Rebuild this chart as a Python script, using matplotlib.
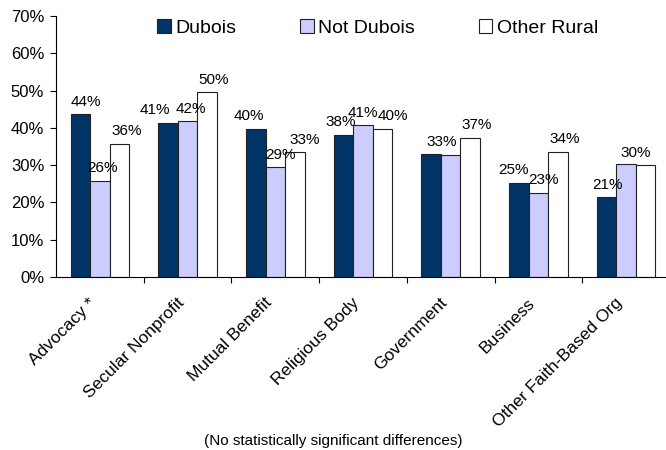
import matplotlib
matplotlib.use("Agg")
import matplotlib.pyplot as plt
import matplotlib.transforms as mtransforms
import numpy as np
from matplotlib.ticker import FixedLocator, PercentFormatter

plt.rcParams["font.family"] = ["Liberation Sans", "DejaVu Sans"]

categories = ["Advocacy *", "Secular Nonprofit", "Mutual Benefit", "Religious Body",
              "Government", "Business", "Other Faith-Based Org"]
series = ["Dubois", "Not Dubois", "Other Rural"]
dubois = [43.6, 41.4, 39.7, 38.2, 32.9, 25.3, 21.4]
not_dubois = [25.8, 41.8, 29.4, 40.7, 32.8, 22.6, 30.3]
other_rural = [35.8, 49.6, 33.4, 39.7, 37.3, 33.6, 30.0]
# which bars carry a value label (one label each on the Government / Other Faith pairs)
show_label = [
    [True, True, True, True, True, True, True],
    [True, True, True, True, False, True, False],
    [True, True, True, True, True, True, True],
]

colors = ["#003366", "#CCCCFF", "#FFFFFF"]
# horizontal nudge of each value label, in pixels, so neighbours don't collide
nudge = [
    [6, -13, -7, -3, 11, -5, 1],
    [3, 3, 5, 0, 0, 5, 0],
    [7, 6, 10, 10, 6, 7, -10],
]

fig = plt.figure(figsize=(6.66, 4.5), dpi=100)
ax = fig.add_axes([56 / 666, 1 - 277 / 450, 614 / 666, (277 - 16) / 450])

x = np.arange(len(categories))
w = 0.223
for i, (vals, name) in enumerate(zip([dubois, not_dubois, other_rural], series)):
    pos = x + (i - 1) * w
    ax.bar(pos, vals, w, color=colors[i], edgecolor="#222222", linewidth=0.8, label=name)
    for p, v, s, dx in zip(pos, vals, show_label[i], nudge[i]):
        if s:
            ax.annotate(f"{v:.0f}%", (p, v), xytext=(dx * 0.72, 4), textcoords="offset points",
                        ha="center", va="bottom", fontsize=11)

ax.set_xlim(-0.5, len(categories) - 0.5)
ax.set_ylim(0, 70)
ax.set_yticks(np.arange(0, 71, 10))
ax.yaxis.set_major_formatter(PercentFormatter(decimals=0))
ax.tick_params(axis="y", direction="out", length=4, labelsize=12, width=0.8, pad=4.5)

ax.set_xticks(x)
ax.set_xticklabels(categories, rotation=45, ha="right", va="center", rotation_mode="anchor",
                   fontsize=12.5)
ax.tick_params(axis="x", which="major", length=0, pad=17)
shift = mtransforms.ScaledTranslation(-6 / 100, 0, fig.dpi_scale_trans)
for lab in ax.get_xticklabels():
    lab.set_transform(lab.get_transform() + shift)
ax.xaxis.set_minor_locator(FixedLocator(np.arange(0.5, len(categories), 1)))
ax.tick_params(axis="x", which="minor", direction="out", length=4.5, width=0.8)

for side in ["top", "right"]:
    ax.spines[side].set_visible(False)
for side in ["left", "bottom"]:
    ax.spines[side].set_linewidth(0.8)

fig.legend(*ax.get_legend_handles_labels(), loc="upper left",
           bbox_to_anchor=(157 / 666, 1 - 19 / 450), ncol=3, frameon=False,
           borderpad=0, borderaxespad=0, fontsize=14, handlelength=0.7, handleheight=0.7,
           handletextpad=0.22, columnspacing=3.3)

fig.text(333 / 666, 1 - 441 / 450, "(No statistically significant differences)",
         ha="center", va="center", fontsize=11)

fig.savefig("out.png", dpi=100, facecolor="white")
